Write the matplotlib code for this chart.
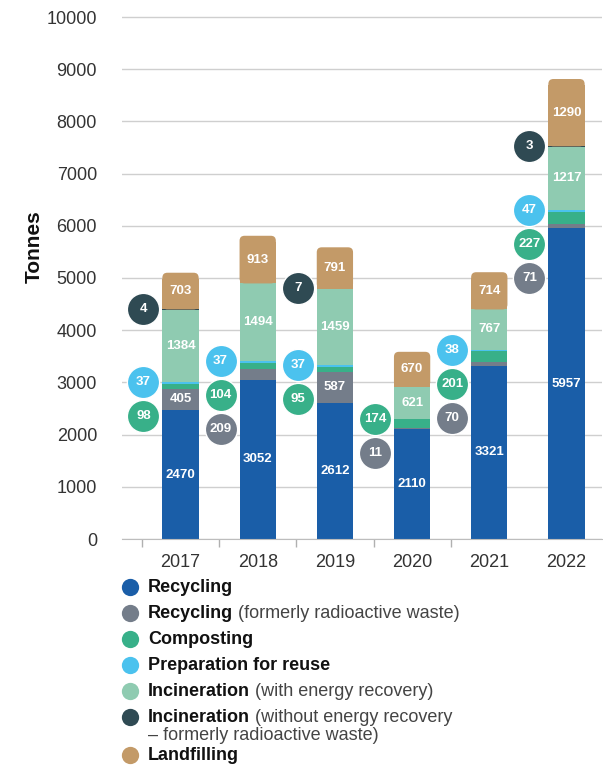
import numpy as np
import matplotlib.pyplot as plt
from matplotlib.patches import FancyBboxPatch

plt.rcParams['font.family'] = ['Liberation Sans', 'DejaVu Sans']

years = ['2017', '2018', '2019', '2020', '2021', '2022']
recycling = [2470, 3052, 2612, 2110, 3321, 5957]
recycling_rad = [405, 209, 587, 11, 70, 71]
composting = [98, 104, 95, 174, 201, 227]
reuse = [37, 37, 37, 0, 38, 47]
incineration = [1384, 1494, 1459, 621, 767, 1217]
incineration_rad = [4, 0, 7, 0, 0, 3]
landfilling = [703, 913, 791, 670, 714, 1290]

series = [recycling, recycling_rad, composting, reuse,
          incineration, incineration_rad, landfilling]
colors = ['#1a5ea8', '#747d8a', '#38b089', '#4bc2ee',
          '#8fcbb1', '#2f4a53', '#c39a68']
legend_bold = ['Recycling', 'Recycling', 'Composting', 'Preparation for reuse',
               'Incineration', 'Incineration', 'Landfilling']
legend_rest = ['', '(formerly radioactive waste)', '', '',
               '(with energy recovery)',
               '(without energy recovery\n\u2013 formerly radioactive waste)', '']

W, H = 603, 766
fig = plt.figure(figsize=(W / 100, H / 100), dpi=100)
ymax = 10050
px_per_unit = 0.0522
ax = fig.add_axes([122 / W, (H - 539) / H, (602 - 122) / W, ymax * px_per_unit / H])

x = np.arange(len(years))
bw = 0.47
bottom = np.zeros(len(years))
data = np.array(series, dtype=float)

# data units per pixel, for the round tops and the circle spacing
ux = 1 / 77.2
uy = 1 / px_per_unit

for k, vals in enumerate(data):
    if k == len(data) - 1:
        # top segment with rounded top corners
        r = 5 * ux
        for i in range(len(years)):
            ax.bar(x[i], vals[i] - 6 * uy, bw, bottom=bottom[i], color=colors[k], lw=0)
            p = FancyBboxPatch((x[i] - bw / 2, bottom[i]), bw, vals[i],
                               boxstyle='round,pad=0,rounding_size=%f' % r,
                               mutation_aspect=uy / ux, fc=colors[k], lw=0)
            ax.add_patch(p)
    else:
        ax.bar(x, vals, bw, bottom=bottom, color=colors[k], lw=0)
    for i in range(len(years)):
        if vals[i] >= 300:
            ax.text(x[i], bottom[i] + vals[i] / 2, str(int(vals[i])), color='white',
                    ha='center', va='center', fontsize=9.5, fontweight='bold')
    bottom = bottom + vals

# callout circles for the small segments
step = 34 * uy
cx_off = 0.02
for i in range(len(years)):
    top = recycling[i] + recycling_rad[i] + composting[i] + reuse[i]
    y = top
    for k in [3, 2, 1]:
        v = data[k][i]
        if 0 < v < 300:
            ax.scatter(i - 0.5 + cx_off, y, s=540, color=colors[k], edgecolor='white',
                       lw=1, zorder=5, clip_on=False)
            ax.text(i - 0.5 + cx_off, y, str(int(v)), color='white', ha='center',
                    va='center', fontsize=9.5, fontweight='bold', zorder=6)
            y -= step
    if incineration_rad[i] > 0:
        y = top + incineration[i] + 10
        ax.scatter(i - 0.5 + cx_off, y, s=540, color=colors[5], edgecolor='white',
                   lw=1, zorder=5, clip_on=False)
        ax.text(i - 0.5 + cx_off, y, str(incineration_rad[i]), color='white',
                ha='center', va='center', fontsize=9.5, fontweight='bold', zorder=6)

ax.set_xlim((122 - 180.5) * ux, (602 - 180.5) * ux)
ax.set_ylim(0, ymax)
ax.set_yticks(range(0, 10001, 1000))
ax.yaxis.grid(True, color='#cfcfcf', lw=1)
ax.set_axisbelow(True)
for s in ['top', 'right', 'left']:
    ax.spines[s].set_visible(False)
ax.spines['bottom'].set_color('#bdbdbd')
ax.tick_params(axis='y', length=0, pad=18, labelsize=13, labelcolor='#333333')
ax.set_xticks(x)
ax.set_xticklabels(years)
ax.set_xticks(np.arange(len(years) - 1) - 0.5, minor=True)
ax.tick_params(axis='x', which='major', length=0, pad=11, labelsize=13,
               labelcolor='#333333')
ax.tick_params(axis='x', which='minor', length=6, color='#b0b0b0', width=1)

fig.text(34 / W, 1 - 247 / H, 'Tonnes', rotation=90, ha='center', va='center',
         fontsize=15, fontweight='bold', color='#111111')

# legend
fig.canvas.draw()
rend = fig.canvas.get_renderer()
row_y = [587, 613, 639, 665, 691, 717, 755]
lax = fig.add_axes([0, 0, 1, 1], facecolor='none')
lax.set_xlim(0, W)
lax.set_ylim(H, 0)
lax.axis('off')
for j in range(len(legend_bold)):
    yy = row_y[j]
    lax.scatter(130, yy, s=155, color=colors[j], lw=0)
    t = lax.text(148, yy, legend_bold[j], ha='left', va='center', fontsize=13,
                 fontweight='bold', color='#111111')
    if legend_rest[j]:
        bb = t.get_window_extent(rend)
        if '\n' in legend_rest[j]:
            first, second = legend_rest[j].split('\n')
            lax.text(bb.x1 + 5, yy, first, ha='left', va='center', fontsize=13,
                     color='#444444')
            lax.text(148, yy + 18, second, ha='left', va='center', fontsize=13,
                     color='#444444')
        else:
            lax.text(bb.x1 + 5, yy, legend_rest[j], ha='left', va='center',
                     fontsize=13, color='#444444')

fig.savefig('out.png', dpi=100)
